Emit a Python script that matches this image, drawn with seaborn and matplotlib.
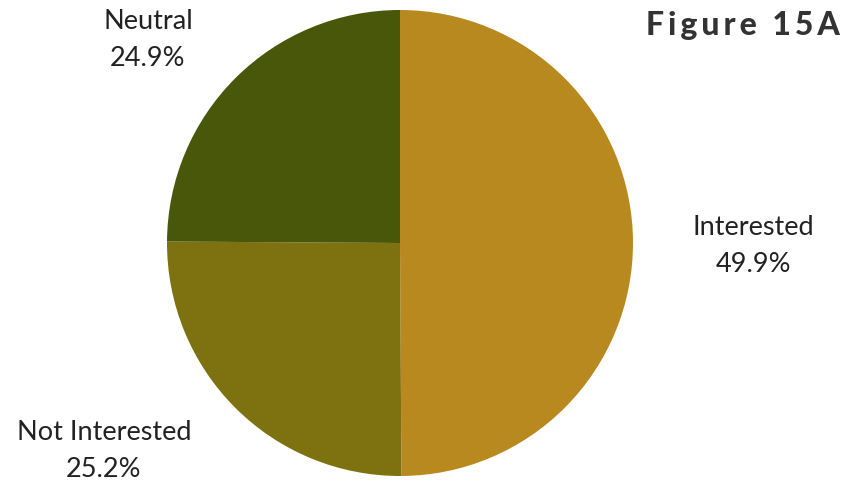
import matplotlib
matplotlib.use("Agg")
import matplotlib.pyplot as plt
import seaborn as sns

# Survey response shares
categories = ["Interested", "Not Interested", "Neutral"]
shares = [49.9, 25.2, 24.9]
slice_colors = ["#B8891F", "#7D720F", "#485709"]

sns.set_theme(style="white")
plt.rcParams["font.family"] = ["Lato", "DejaVu Sans"]

W, H = 845, 483
fig = plt.figure(figsize=(W / 100, H / 100), dpi=100)
ax = fig.add_axes([0, 0, 1, 1])

cx, cy, r = 400, H - 243, 233
wedges, _ = ax.pie(shares, colors=slice_colors, startangle=90, counterclock=False,
                   center=(cx, cy), radius=r, wedgeprops=dict(linewidth=0))
ax.set_xlim(0, W)
ax.set_ylim(0, H)
ax.set_aspect("equal")
ax.axis("off")

# Labels placed outside each slice
label_pos = {
    "Interested": (753, H - 246),
    "Not Interested": (104, H - 451),
    "Neutral": (148, H - 40),
}
for cat, val in zip(categories, shares):
    x, y = label_pos[cat]
    ax.text(x, y, f"{cat}\n{val:.1f}%", ha="center", va="center", fontsize=19.5,
            fontweight="normal", color="#222222", linespacing=1.62)

# Title with wide letter spacing
title = "Figure 15A"
ax.text(840, H - 25, "\u2009".join(title), ha="right", va="center", fontsize=23,
        fontweight="black", color="#333333")

fig.savefig("out.png", dpi=100)
